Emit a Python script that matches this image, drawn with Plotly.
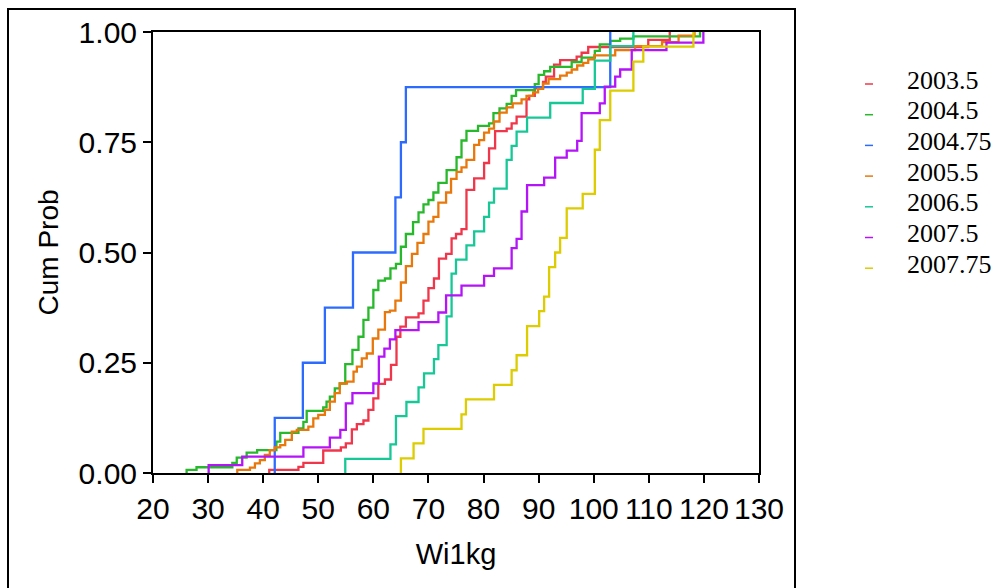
import plotly.graph_objects as go

# Groups and their line colours
series_names = ["2003.5", "2004.5", "2004.75", "2005.5", "2006.5", "2007.5", "2007.75"]
series_colors = ["#F0364A", "#27B82B", "#2D6BFF", "#E8780C", "#17C896", "#B414F8", "#DCCC00"]

# Empirical CDF of Wi1kg per group: step positions and cumulative probability after each step
x_2003_5 = [41.1, 46.4, 47.3, 50.9, 54.1, 55.0, 56.1, 57.0, 58.2, 59.1, 60.0, 60.9, 62.1, 63.2,
            64.2, 64.9, 65.9, 68.2, 69.1, 70.0, 71.0, 71.9, 73.2, 74.2, 75.0, 76.0, 76.9, 78.3,
            80.1, 81.0, 82.1, 84.2, 85.1, 86.0, 87.8, 88.3, 89.3, 90.8, 91.3, 92.8, 93.9, 96.9,
            97.8, 99.0, 109.9, 113.8]
p_2003_5 = [0.007, 0.014, 0.023, 0.051, 0.058, 0.067, 0.099, 0.111, 0.119, 0.143, 0.169, 0.202,
            0.212, 0.245, 0.309, 0.332, 0.353, 0.362, 0.391, 0.419, 0.441, 0.486, 0.497, 0.532,
            0.542, 0.553, 0.642, 0.668, 0.703, 0.736, 0.775, 0.781, 0.793, 0.808, 0.847, 0.855,
            0.872, 0.887, 0.899, 0.926, 0.936, 0.944, 0.953, 0.966, 0.982, 1.0]

x_2004_5 = [26.1, 27.9, 34.4, 35.2, 37.0, 38.9, 42.4, 43.1, 46.4, 47.3, 47.9, 50.9, 51.5, 52.1,
            53.0, 53.9, 54.9, 56.2, 57.3, 58.2, 59.1, 60.0, 60.9, 62.1, 63.1, 64.1, 65.0, 65.9,
            67.2, 68.2, 69.1, 70.0, 70.9, 71.8, 73.3, 75.1, 76.0, 76.9, 79.0, 81.0, 81.8, 82.9,
            84.2, 85.1, 85.9, 89.3, 90.0, 91.0, 92.1, 96.0, 97.8, 100.2, 101.1, 103.0, 104.8,
            107.2, 119.3]
p_2004_5 = [0.007, 0.013, 0.023, 0.035, 0.046, 0.052, 0.071, 0.091, 0.101, 0.116, 0.141, 0.149,
            0.162, 0.173, 0.192, 0.203, 0.247, 0.279, 0.309, 0.347, 0.375, 0.415, 0.436, 0.441,
            0.464, 0.474, 0.513, 0.542, 0.569, 0.591, 0.609, 0.619, 0.636, 0.658, 0.687, 0.716,
            0.754, 0.776, 0.787, 0.793, 0.816, 0.827, 0.837, 0.855, 0.868, 0.882, 0.903, 0.911,
            0.921, 0.932, 0.942, 0.957, 0.972, 0.980, 0.985, 0.990, 1.0]

x_2004_75 = [42.1, 47.2, 51.2, 56.3, 64.0, 65.0, 65.9, 103.0]
p_2004_75 = [0.125, 0.25, 0.375, 0.5, 0.625, 0.75, 0.875, 1.0]

x_2005_5 = [35.3, 37.6, 38.5, 39.4, 40.3, 41.2, 42.1, 43.1, 44.0, 45.2, 46.1, 48.2, 49.1, 50.0,
            51.2, 52.1, 53.0, 53.9, 55.2, 56.4, 57.0, 57.9, 58.8, 59.9, 60.9, 62.1, 63.0, 64.0,
            65.0, 65.9, 67.0, 68.0, 69.1, 70.0, 70.9, 71.8, 73.2, 74.1, 75.1, 76.0, 76.9, 78.3,
            79.2, 80.1, 81.0, 81.9, 82.9, 84.2, 85.3, 86.9, 87.8, 89.0, 89.9, 90.8, 91.8, 93.9,
            95.1, 96.0, 97.0, 98.1, 99.0, 100.1, 103.9, 107.5, 112.4, 115.4, 118.3]
p_2005_5 = [0.007, 0.012, 0.022, 0.029, 0.041, 0.052, 0.058, 0.063, 0.075, 0.094, 0.098, 0.105,
            0.124, 0.132, 0.143, 0.162, 0.181, 0.203, 0.207, 0.230, 0.241, 0.260, 0.271, 0.305,
            0.325, 0.365, 0.368, 0.391, 0.432, 0.469, 0.497, 0.522, 0.542, 0.570, 0.581, 0.613,
            0.636, 0.667, 0.683, 0.693, 0.710, 0.744, 0.755, 0.772, 0.781, 0.797, 0.817, 0.829,
            0.838, 0.847, 0.855, 0.863, 0.871, 0.883, 0.893, 0.901, 0.908, 0.915, 0.924, 0.930,
            0.938, 0.947, 0.959, 0.968, 0.977, 0.992, 1.0]

x_2006_5 = [54.9, 63.1, 64.1, 66.0, 68.2, 69.2, 71.0, 71.8, 73.3, 74.2, 75.0, 76.9, 78.3, 80.1,
            81.0, 81.9, 84.2, 85.1, 86.0, 87.9, 92.1, 98.0, 100.2, 103.0, 107.2]
p_2006_5 = [0.032, 0.065, 0.129, 0.161, 0.194, 0.226, 0.258, 0.290, 0.355, 0.452, 0.484, 0.516,
            0.548, 0.581, 0.613, 0.645, 0.710, 0.742, 0.774, 0.806, 0.839, 0.871, 0.935, 0.968, 1.0]

x_2007_5 = [30.1, 36.2, 47.3, 52.1, 54.0, 55.0, 56.2, 60.0, 61.0, 62.0, 63.0, 64.0, 68.2, 71.8,
            73.2, 76.0, 80.1, 81.9, 85.1, 86.0, 86.9, 87.9, 91.0, 93.0, 95.1, 97.0, 97.8, 101.1,
            102.0, 103.9, 104.8, 106.9, 113.2, 119.9]
p_2007_5 = [0.018, 0.037, 0.058, 0.080, 0.098, 0.158, 0.181, 0.203, 0.264, 0.282, 0.303, 0.324,
            0.342, 0.364, 0.403, 0.425, 0.447, 0.464, 0.510, 0.531, 0.593, 0.653, 0.670, 0.715,
            0.731, 0.753, 0.816, 0.838, 0.876, 0.899, 0.915, 0.959, 0.976, 1.0]

x_2007_75 = [65.0, 67.3, 69.1, 76.0, 76.8, 81.9, 85.1, 86.0, 87.9, 90.1, 91.0, 91.9, 93.0, 93.9,
             95.1, 98.0, 100.2, 101.1, 103.0, 107.2, 109.0, 118.1]
p_2007_75 = [0.033, 0.067, 0.100, 0.133, 0.167, 0.200, 0.233, 0.267, 0.333, 0.367, 0.400, 0.467,
             0.500, 0.533, 0.600, 0.633, 0.733, 0.800, 0.867, 0.933, 0.967, 1.0]

x_ticks = [20, 30, 40, 50, 60, 70, 80, 90, 100, 110, 120, 130]
y_ticks = [0.0, 0.25, 0.5, 0.75, 1.0]

steps = [
    (x_2003_5, p_2003_5),
    (x_2004_5, p_2004_5),
    (x_2004_75, p_2004_75),
    (x_2005_5, p_2005_5),
    (x_2006_5, p_2006_5),
    (x_2007_5, p_2007_5),
    (x_2007_75, p_2007_75),
]

sans = "Arial, Liberation Sans, sans-serif"
serif = "Liberation Serif, Times New Roman, serif"

fig = go.Figure()
for name, color, (xs, ps) in zip(series_names, series_colors, steps):
    fig.add_trace(go.Scatter(
        x=[xs[0]] + xs,
        y=[0.0] + ps,
        mode="lines",
        line=dict(color=color, width=2.3, shape="hv"),
        name=name,
    ))

axis_common = dict(
    showline=True, linecolor="black", linewidth=2, mirror=True,
    ticks="outside", ticklen=8, tickwidth=2, tickcolor="black",
    showgrid=False, zeroline=False,
    tickfont=dict(family=sans, size=30, color="black"),
)

fig.update_xaxes(
    range=[20, 130], tickvals=x_ticks, ticktext=[str(v) for v in x_ticks],
    title=dict(text="Wi1kg", font=dict(family=sans, size=29, color="black"), standoff=20),
    **axis_common,
)
fig.update_yaxes(
    range=[0, 1], tickvals=y_ticks, tickformat=".2f",
    title=dict(text="Cum Prob", font=dict(family=sans, size=28, color="black"), standoff=12),
    **axis_common,
)

# Plot-area geometry in pixels, used to place the legend and outer frame
L, R, T, B = 153, 759, 32, 473
W, H = R - L, B - T


def px_x(px):
    return (px - L) / W


def px_y(py):
    return (B - py) / H


shapes = [dict(
    type="rect", xref="paper", yref="paper",
    x0=px_x(8), x1=px_x(795), y0=px_y(640), y1=px_y(9),
    line=dict(color="black", width=2), fillcolor="rgba(0,0,0,0)", layer="below",
)]
annotations = []
for i, (name, color) in enumerate(zip(series_names, series_colors)):
    yc = 84 + 30.7 * i
    shapes.append(dict(
        type="line", xref="paper", yref="paper",
        x0=px_x(865), x1=px_x(873), y0=px_y(yc), y1=px_y(yc),
        line=dict(color=color, width=1.5),
    ))
    annotations.append(dict(
        xref="paper", yref="paper", x=px_x(905), y=px_y(yc - 4),
        text=name, showarrow=False, xanchor="left", yanchor="middle",
        font=dict(family=serif, size=26, color="black"),
    ))

fig.update_layout(
    width=999, height=588,
    margin=dict(l=L, r=999 - R, t=T, b=588 - B),
    paper_bgcolor="white", plot_bgcolor="white",
    showlegend=False,
    shapes=shapes, annotations=annotations,
)

fig.write_html("out.html")
